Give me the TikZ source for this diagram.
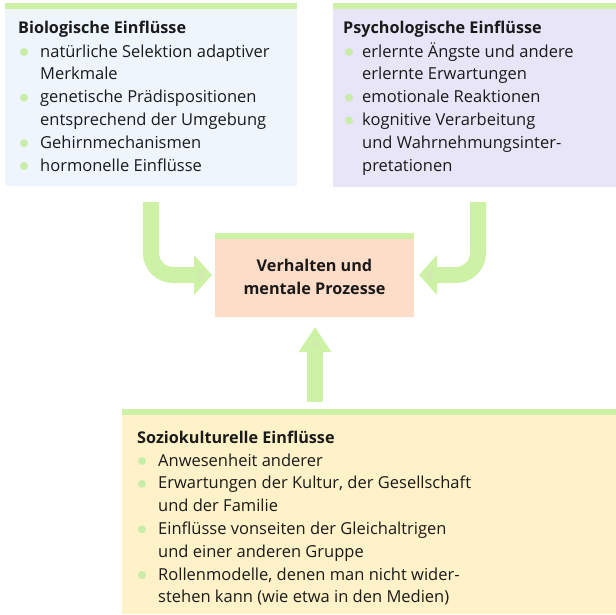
\documentclass[tikz,border=0pt]{standalone}
\usepackage{fontspec}
\setmainfont{Open Sans}
\usetikzlibrary{arrows.meta,calc}
\definecolor{grn}{HTML}{CDF2A6}
\definecolor{tipc}{HTML}{D2EAB0}
\definecolor{bulc}{HTML}{C8EDA8}
\definecolor{biof}{HTML}{EEF5FD}
\definecolor{psyf}{HTML}{E9E5F8}
\definecolor{cenf}{HTML}{FDDCC8}
\definecolor{socf}{HTML}{FFF2C8}
\definecolor{txtc}{HTML}{1A1A1A}
\begin{document}
\begin{tikzpicture}[x=1pt,y=-1pt,
  box/.style={draw=none,inner sep=0pt,outer sep=0pt,anchor=north west},
  ttl/.style={anchor=base west,inner sep=0pt,font=\fontsize{16.2}{22.8}\selectfont\bfseries,text=txtc},
  lst/.style={anchor=base west,inner sep=0pt,align=left,font=\fontsize{16.5}{22.8}\selectfont,text=txtc},
  bul/.style={fill=bulc},
  sidearrow/.style={draw=grn,line width=16pt,rounded corners=22pt,-{Triangle[width=39pt,length=18pt,fill=tipc]}},
  uparrow/.style={draw=grn,line width=16pt,-{Triangle[width=31pt,length=25pt,fill=tipc]}}]
\useasboundingbox (0,0) rectangle (616,614);
\fill[white] (0,0) rectangle (616,614);
% boxes
\node[box,fill=biof,minimum width=292pt,minimum height=183pt] (bio) at (5,3) {};
\node[box,fill=psyf,minimum width=283pt,minimum height=184pt] (psy) at (333,3) {};
\node[box,fill=cenf,minimum width=199pt,minimum height=84pt] (cen) at (215,233) {};
\node[box,fill=socf,minimum width=494pt,minimum height=205pt] (soc) at (122,409) {};
\foreach \b in {bio,psy,cen,soc}
  \fill[grn] (\b.north west) rectangle ([yshift=-6pt]\b.north east);
% texts (base anchor = baseline of last line)
\node[ttl] (bioT) at (18,33) {Biologische Einflüsse};
\node[lst] (bioL) at (40,171) {natürliche Selektion adaptiver\\Merkmale\\genetische Prädispositionen\\entsprechend der Umgebung\\Gehirnmechanismen\\hormonelle Einflüsse};
\foreach \y in {57,102.6,148.2,171}
  \fill[bul] (24,\y-5) circle (4);
\node[ttl] (psyT) at (343,33) {Psychologische Einflüsse};
\node[lst] (psyL) at (362,171) {erlernte Ängste und andere\\erlernte Erwartungen\\emotionale Reaktionen\\kognitive Verarbeitung\\und Wahrnehmungsinter-\\pretationen};
\foreach \y in {57,102.6,125.4}
  \fill[bul] (349,\y-5) circle (4);
\node[align=center,inner sep=0pt,anchor=base,font=\fontsize{16.2}{23}\selectfont\bfseries,text=txtc] (cenT) at (314.5,294) {Verhalten und\\mentale Prozesse};
\node[ttl] (socT) at (137,443) {Soziokulturelle Einflüsse};
\node[lst] (socL) at (158,602.8) {Anwesenheit anderer\\Erwartungen der Kultur, der Gesellschaft\\und der Familie\\Einflüsse vonseiten der Gleichaltrigen\\und einer anderen Gruppe\\Rollenmodelle, denen man nicht wider-\\stehen kann (wie etwa in den Medien)};
\foreach \y in {466,488.8,534.4,580}
  \fill[bul] (142,\y-5) circle (4);
% arrows
\coordinate (a1) at (151,202);
\coordinate (a2) at (478,202);
\coordinate (a3) at (315,402);
\draw[sidearrow,shorten >=3pt] (a1) |- (cen.west);
\draw[sidearrow,shorten >=5pt] (a2) |- (cen.east);
\draw[uparrow,shorten >=10pt] (a3) -- (a3 |- cen.south);
\end{tikzpicture}
\end{document}
